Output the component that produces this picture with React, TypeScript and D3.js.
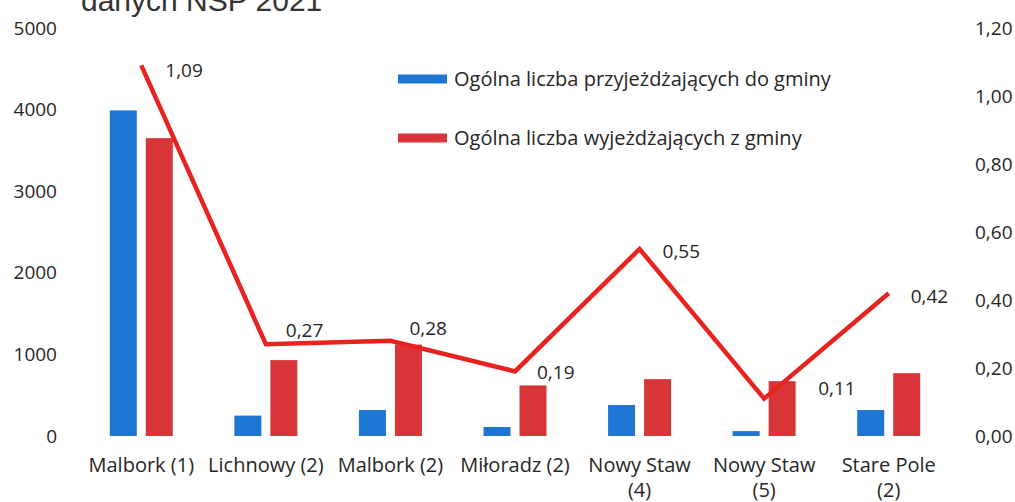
import * as d3 from 'd3';
import React from 'react';

const categories = [
  'Malbork (1)',
  'Lichnowy (2)',
  'Malbork (2)',
  'Miłoradz (2)',
  'Nowy Staw (4)',
  'Nowy Staw (5)',
  'Stare Pole (2)',
];
const arriving = [3990, 250, 318, 110, 380, 60, 318];
const leaving = [3650, 930, 1120, 620, 697, 672, 770];
const ratio = [1.09, 0.27, 0.28, 0.19, 0.55, 0.11, 0.42];
const leftTicks = [0, 1000, 2000, 3000, 4000, 5000];
const rightTicks = [0, 0.2, 0.4, 0.6, 0.8, 1.0, 1.2];
const seriesNames = [
  'Ogólna liczba przyjeżdżających do gminy',
  'Ogólna liczba wyjeżdżających z gminy',
];
const titleTail = 'danych NSP 2021';

const W = 1015;
const H = 502;
const FONT = '"Open Sans", Lato, sans-serif';
const TEXT = '#262626';
const BLUE = '#1d76d4';
const RED = '#d93539';
const LINE = '#e8231f';

// manual label nudges, as the labels were dragged in the original chart
const labelOffsets: [number, number][] = [
  [24, 5],
  [20, -14],
  [19, -12],
  [22, 1],
  [23, 2],
  [54, -10],
  [22, 3],
];

const fmt = (v: number) => v.toFixed(2).replace('.', ',');

// Split long names at the last space, like Excel's wrapped axis labels
const wrap = (s: string) => {
  const parts = s.split(' ');
  if (parts.length < 3) return [s];
  return [parts.slice(0, -1).join(' '), parts[parts.length - 1]];
};

export default function App() {
  const x = d3.scaleBand<string>().domain(categories).range([79, 951]).padding(0);
  const inner = d3.scaleBand<number>().domain([0, 1]).range([-31.5, 31.5]).paddingInner(0.25);
  const yL = d3.scaleLinear().domain([0, 5000]).range([436, 28]);
  const yR = d3.scaleLinear().domain([0, 1.2]).range([436, 28]);
  const cx = (c: string) => (x(c) ?? 0) + x.bandwidth() / 2;

  const line = d3
    .line<number>()
    .x((_, i) => cx(categories[i]))
    .y((d) => yR(d));

  return (
    <div style={{ position: 'absolute', left: 0, top: 0 }}>
      <svg width={W} height={H} style={{ display: 'block', background: '#fff' }}>
        <text x={81} y={11} fontFamily='"Liberation Sans", Arial, sans-serif' fontSize={30} fill="#333">
          {titleTail}
        </text>

        {leftTicks.map((t) => (
          <text key={t} x={57} y={yL(t)} dy="0.35em" textAnchor="end" fontFamily={FONT} fontSize={19} fill={TEXT}>
            {t}
          </text>
        ))}
        {rightTicks.map((t) => (
          <text key={t} x={975} y={yR(t)} dy="0.35em" fontFamily={FONT} fontSize={19} fill={TEXT}>
            {fmt(t)}
          </text>
        ))}

        {categories.map((c, i) => (
          <g key={c} transform={`translate(${cx(c)},0)`}>
            <rect
              x={inner(0)}
              y={yL(arriving[i])}
              width={inner.bandwidth()}
              height={yL(0) - yL(arriving[i])}
              fill={BLUE}
            />
            <rect
              x={inner(1)}
              y={yL(leaving[i])}
              width={inner.bandwidth()}
              height={yL(0) - yL(leaving[i])}
              fill={RED}
            />
            {wrap(c).map((ln, j) => (
              <text key={j} x={0} y={472 + j * 25} textAnchor="middle" fontFamily={FONT} fontSize={20} fill={TEXT}>
                {ln}
              </text>
            ))}
          </g>
        ))}

        <path d={line(ratio) ?? ''} fill="none" stroke={LINE} strokeWidth={4.5} strokeLinejoin="miter" />

        {ratio.map((v, i) => (
          <text
            key={i}
            x={cx(categories[i]) + labelOffsets[i][0]}
            y={yR(v) + labelOffsets[i][1]}
            dy="0.35em"
            fontFamily={FONT}
            fontSize={19}
            fill={TEXT}
          >
            {fmt(v)}
          </text>
        ))}

        {seriesNames.map((s, i) => (
          <g key={s} transform={`translate(398,${79 + i * 59})`}>
            <rect x={0} y={-4.5} width={49} height={9} fill={i === 0 ? BLUE : RED} />
            <text x={56} y={0} dy="0.35em" fontFamily={FONT} fontSize={20} fill={TEXT}>
              {s}
            </text>
          </g>
        ))}
      </svg>
    </div>
  );
}
